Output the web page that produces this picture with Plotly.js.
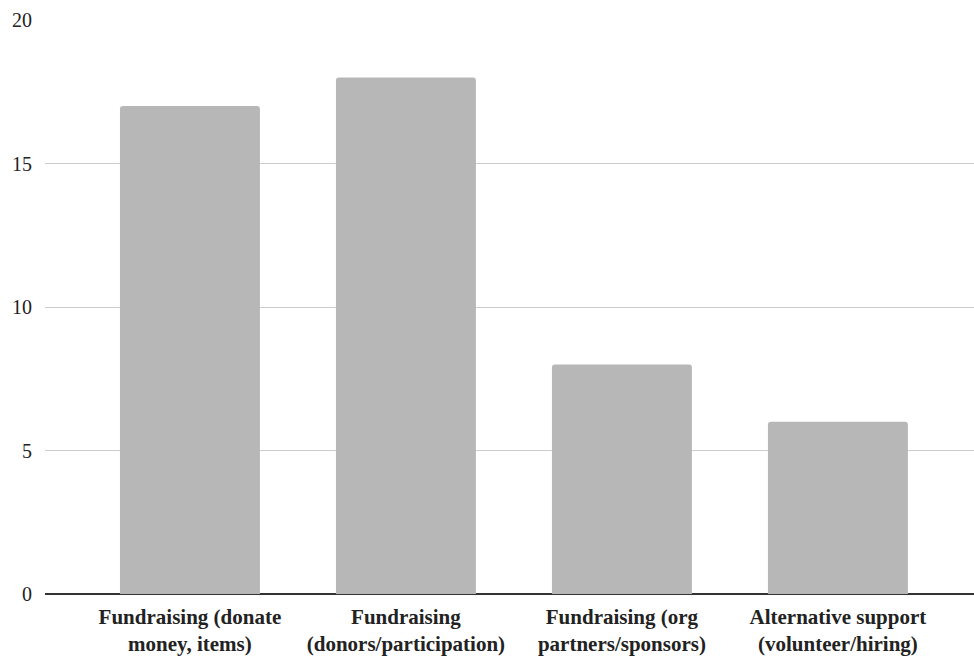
<!DOCTYPE html>
<html>
<head>
<meta charset="utf-8">
<script src="https://cdn.plot.ly/plotly-3.0.1.min.js"></script>
<style>
  html, body { margin: 0; padding: 0; background: #ffffff; }
  #chart { width: 974px; height: 658px; }
</style>
</head>
<body>
<div id="chart"></div>
<script>
// Support categories (two-line labels) and how many mentions each got
const categories = [
  'Fundraising (donate<br>money, items)',
  'Fundraising<br>(donors/participation)',
  'Fundraising (org<br>partners/sponsors)',
  'Alternative support<br>(volunteer/hiring)'
];
const counts = [17, 18, 8, 6];
const yTicks = [0, 5, 10, 15, 20];

const trace = {
  type: 'bar',
  x: [0, 1, 2, 3],
  y: counts,
  marker: { color: '#b7b7b7', line: { width: 0 } },
  hoverinfo: 'x+y'
};

const serif = 'Liberation Serif, Times New Roman, serif';

const layout = {
  width: 974,
  height: 658,
  margin: { l: 45, r: 0, t: 20, b: 64 },
  paper_bgcolor: '#ffffff',
  plot_bgcolor: '#ffffff',
  showlegend: false,
  bargap: 0.352,
  barcornerradius: 3,
  font: { family: serif, color: '#222222' },
  xaxis: {
    range: [-0.671, 3.630],
    tickmode: 'array',
    tickvals: [0, 1, 2, 3],
    ticktext: categories.map(c => '<b>' + c + '</b>'),
    showgrid: false,
    zeroline: false,
    showline: false,
    ticks: '',
    ticklabelstandoff: 8,
    tickfont: { family: serif, size: 21, color: '#222222' },
    fixedrange: true
  },
  yaxis: {
    range: [0, 20],
    tickmode: 'array',
    tickvals: yTicks,
    ticktext: yTicks.map(String),
    showgrid: true,
    gridcolor: '#cccccc',
    gridwidth: 1,
    zeroline: true,
    zerolinecolor: '#333333',
    zerolinewidth: 2,
    showline: false,
    ticks: '',
    ticklabelstandoff: 12,
    tickfont: { family: serif, size: 20, color: '#222222' },
    fixedrange: true
  }
};

Plotly.newPlot('chart', [trace], layout, { displayModeBar: false, staticPlot: true });
</script>
</body>
</html>
